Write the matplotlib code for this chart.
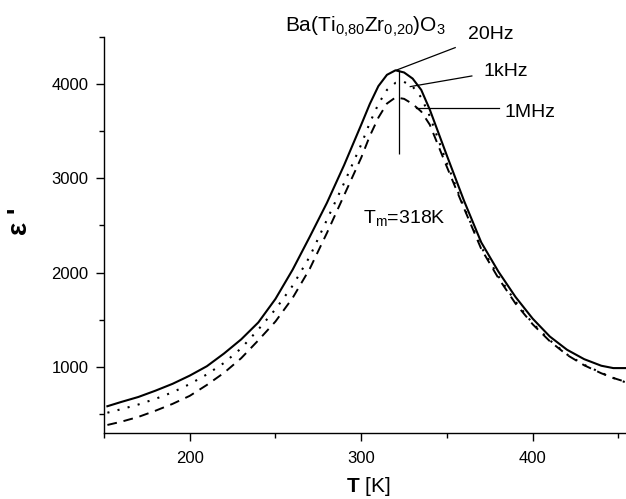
import numpy as np
import matplotlib
matplotlib.use("Agg")
import matplotlib.pyplot as plt
from matplotlib.ticker import MultipleLocator

plt.rcParams["font.family"] = ["Liberation Sans", "DejaVu Sans"]
plt.rcParams["mathtext.fontset"] = "custom"
plt.rcParams["mathtext.rm"] = "Liberation Sans"
plt.rcParams["mathtext.it"] = "Liberation Sans:italic"
plt.rcParams["mathtext.bf"] = "Liberation Sans:bold"

# Temperature grid [K]
temp = [152, 160, 170, 180, 190, 200, 210, 220, 230, 240, 250, 260, 270, 280,
        290, 300, 305, 310, 315, 320, 325, 330, 335, 340, 350, 360, 370, 380,
        390, 400, 410, 420, 430, 440, 447, 454]

# Permittivity at 20 Hz (solid)
eps_20hz = [580, 625, 678, 745, 818, 905, 1005, 1140, 1290, 1470, 1720, 2030,
            2380, 2740, 3140, 3570, 3790, 3980, 4100, 4148, 4125, 4060, 3940,
            3730, 3240, 2760, 2320, 2010, 1740, 1510, 1320, 1180, 1080, 1010,
            985, 985]

# Permittivity at 1 kHz (dotted)
eps_1khz = [511, 548, 598, 658, 728, 815, 918, 1040, 1195, 1395, 1610, 1860,
            2170, 2560, 2950, 3360, 3590, 3790, 3940, 4015, 4025, 3975, 3860,
            3660, 3160, 2690, 2270, 1960, 1690, 1460, 1280, 1130, 1020, 935,
            880, 835]

# Permittivity at 1 MHz (dashed)
eps_1mhz = [381, 415, 466, 532, 605, 690, 806, 935, 1090, 1280, 1480, 1730,
            2040, 2420, 2820, 3220, 3450, 3645, 3795, 3860, 3845, 3790, 3710,
            3570, 3120, 2680, 2250, 1940, 1670, 1450, 1270, 1125, 1015, 930,
            880, 840]

# Create plot
fig = plt.figure(figsize=(6.26, 4.99), dpi=100)
ax = fig.add_axes([0.1661, 0.1331, 0.8339, 0.7924])

ax.plot(temp, eps_20hz, color="k", lw=1.5, ls="-")
ax.plot(temp, eps_1khz, color="k", lw=1.5, ls=(0, (1, 4)))
ax.plot(temp, eps_1mhz, color="k", lw=1.4, ls=(0, (5, 3.5)))

# Axes
ax.set_xlim(150, 454.4)
ax.set_ylim(300, 4500)
ax.spines["top"].set_visible(False)
ax.spines["right"].set_visible(False)
for s in ["left", "bottom"]:
    ax.spines[s].set_linewidth(1.0)
ax.xaxis.set_major_locator(MultipleLocator(100))
ax.xaxis.set_minor_locator(MultipleLocator(50))
ax.yaxis.set_major_locator(MultipleLocator(1000))
ax.yaxis.set_minor_locator(MultipleLocator(500))
ax.tick_params(which="major", length=6, width=1.0, labelsize=12, pad=5)
ax.tick_params(which="minor", length=3.5, width=1.0)
ax.tick_params(axis="x", which="major", pad=7)

# Peak marker and leader lines
ax.vlines(322, 3260, 4150, color="k", lw=0.9)
ax.plot([320.8, 354.8], [4152, 4389], color="k", lw=0.9, clip_on=False)
ax.plot([328.6, 364.5], [3975, 4088], color="k", lw=0.9, clip_on=False)
ax.plot([331.9, 380.1], [3752, 3752], color="k", lw=0.9, clip_on=False)

ax.text(362.4, 4524, "20Hz", fontsize=14, ha="left", va="center", clip_on=False)
ax.text(371.1, 4131, "1kHz", fontsize=14, ha="left", va="center")
ax.text(383.4, 3700, "1MHz", fontsize=14, ha="left", va="center")
ax.text(301, 2525, r"T$_\mathrm{m}$=318K", fontsize=14, ha="left", va="baseline")

fig.text(285 / 626, 1 - 32 / 499, r"Ba(Ti$_{0{,}80}$Zr$_{0{,}20}$)O$_3$",
         fontsize=15, ha="left", va="baseline")

# Axis labels
fig.text(20 / 626, 1 - 221 / 499, "ε '", rotation=90, ha="center", va="center",
         fontsize=20, fontweight="bold")
fig.text(368 / 626, 1 - 492 / 499, r"$\mathbf{T}$ [K]", fontsize=15,
         ha="center", va="baseline")

plt.savefig("out.png", dpi=100)
